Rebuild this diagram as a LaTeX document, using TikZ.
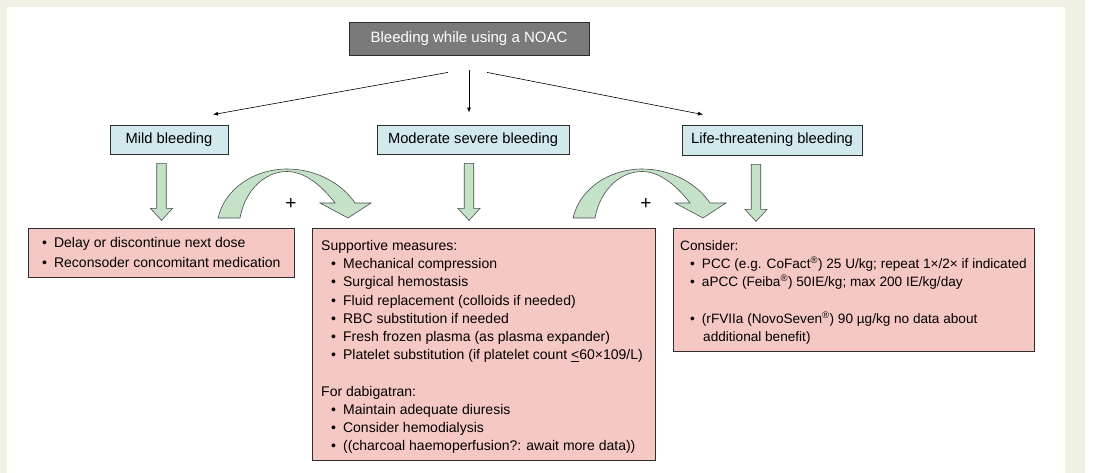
\documentclass[tikz,border=0pt]{standalone}
\usepackage{fontspec}
\setmainfont{Liberation Sans}
\usetikzlibrary{arrows.meta,positioning,calc}
\definecolor{cpage}{RGB}{240,240,228}
\definecolor{cgraybox}{RGB}{122,122,122}
\definecolor{cblue}{RGB}{209,232,236}
\definecolor{cpink}{RGB}{246,200,196}
\definecolor{cgreen}{RGB}{196,226,200}
\definecolor{cline}{RGB}{45,45,45}
\newcommand{\lbul}{\hspace*{10pt}\textbullet\hspace{7pt}}

\begin{document}
\begin{tikzpicture}[
  x=1pt, y=-1pt,
  font=\fontsize{14}{18.2}\selectfont,
  >=Latex,
  headbox/.style={draw=cline,fill=cgraybox,text=white,line width=0.8pt,minimum width=240,minimum height=33,inner sep=2pt,font=\fontsize{15}{18}\selectfont},
  levelbox/.style={draw=cline,fill=cblue,line width=0.8pt,minimum height=29,inner sep=2pt,font=\fontsize{14.7}{18}\selectfont},
  listbox/.style={draw=cline,fill=cpink,line width=0.8pt,anchor=north west,inner sep=0pt},
  listtext/.style={align=left,inner sep=0pt},
  branch/.style={-{Latex[length=5pt,width=4pt]},line width=0.6pt},
  blockarrow/.style={draw=cline!85,fill=cgreen,line width=0.6pt},
  plus/.style={inner sep=0pt,font=\fontsize{19}{19}\selectfont}
]
  \useasboundingbox (0,0) rectangle (1094,473);
  \fill[white] (0,0) rectangle (1094,473);
  \fill[cpage] (0,0) rectangle (1085,473);
  \fill[white] (7,7) rectangle (1065,473);

  % top and severity levels
  \node[headbox] (top) at (469,38.5) {Bleeding while using a NOAC};
  \node[levelbox,minimum width=118] (mild) at (169,139.5) {Mild bleeding};
  \node[levelbox,minimum width=192] (moderate) at (473,139.5) {Moderate severe bleeding};
  \node[levelbox,minimum width=180,minimum height=30] (life) at (772,140) {Life-threatening bleeding};

  \draw[branch] ([xshift=-21pt,yshift=-17pt]top.south) -- ([xshift=44pt,yshift=10pt]mild.north);
  \draw[branch] ([yshift=-15pt]top.south) -- ([xshift=-4pt,yshift=12pt]moderate.north);
  \draw[branch] ([xshift=18pt,yshift=-17pt]top.south) -- ([xshift=-69pt,yshift=10pt]life.north);

  % management boxes
  \node[listbox,minimum width=266,minimum height=49] (mildlist) at (28,228) {};
  \node[listtext,font=\fontsize{14}{20}\selectfont,right=4pt of mildlist.west,yshift=-1pt] (mildtext)
    {\strut\lbul Delay or discontinue next dose\\
     \lbul Reconsoder concomitant medication\strut};

  \node[listbox,minimum width=343,minimum height=232] (modlist) at (312,228) {};
  \node[listtext,right=9pt of modlist.west,yshift=-2.5pt] (modtext)
    {\strut Supportive measures:\\
     \lbul Mechanical compression\\
     \lbul Surgical hemostasis\\
     \lbul Fluid replacement (colloids if needed)\\
     \lbul RBC substitution if needed\\
     \lbul Fresh frozen plasma (as plasma expander)\\
     \lbul Platelet substitution (if platelet count \underline{<}60×109/L)\\[18.2pt]
     For dabigatran:\\
     \lbul Maintain adequate diuresis\\
     \lbul Consider hemodialysis\\
     \lbul ((charcoal haemoperfusion?: await more data))\strut};

  \node[listbox,minimum width=361,minimum height=123] (lifelist) at (673,228) {};
  \node[listtext,font=\fontsize{13.6}{18.2}\selectfont,right=7pt of lifelist.west,yshift=-2.5pt] (lifetext)
    {\strut Consider:\\
     \lbul PCC (e.g. CoFact\textsuperscript{®}) 25 U/kg; repeat 1×/2× if indicated\\
     \lbul aPCC (Feiba\textsuperscript{®}) 50IE/kg; max 200 IE/kg/day\\[18.2pt]
     \lbul (rFVIIa (NovoSeven\textsuperscript{®}) 90 µg/kg no data about\\
     \hspace*{23pt}additional benefit)\strut};

  % block arrows
  \foreach \src/\dx in {mild/-7.5,moderate/-4,life/-16}
    \draw[blockarrow] ([shift={(\dx-4.75,9)}]\src.south) -- ++(9.5,0) -- ++(0,45)
      -- ++(6.25,0) -- ++(-11,12) -- ++(-11,-12) -- ++(6.25,0) -- cycle;
  \foreach \sx in {218,573}
    \draw[blockarrow,xshift=\sx] (0,218) .. controls (7,188) and (37,169) .. (69,169)
      .. controls (100,169) and (125,185) .. (137,203) -- (153,203) -- (130,218)
      -- (102,203) -- (117,203) .. controls (104,186) and (87,171.5) .. (69,171.5)
      .. controls (47,171.5) and (27,190) .. (22,218) -- cycle;
  \node[plus] (plusA) at (291,204) {+};
  \node[plus] (plusB) at (646,204) {+};
\end{tikzpicture}
\end{document}
